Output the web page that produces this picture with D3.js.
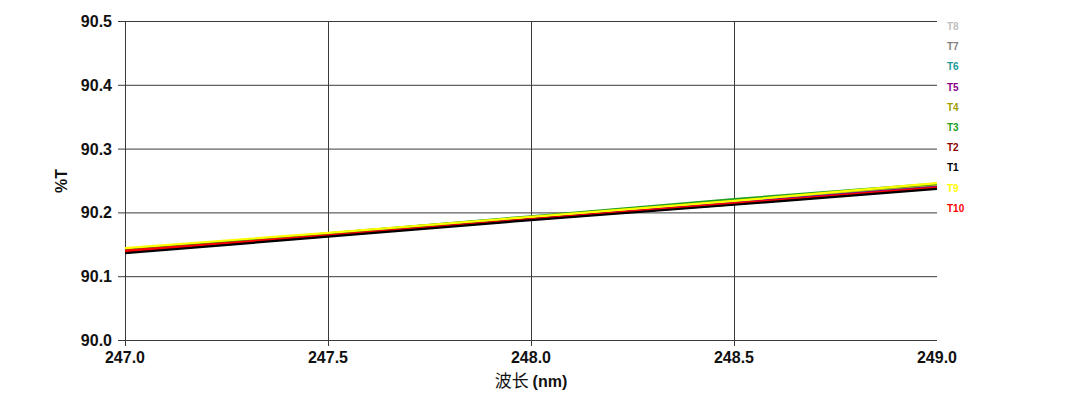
<!DOCTYPE html>
<html><head><meta charset="utf-8">
<script src="https://d3js.org/d3.v7.min.js"></script>
<style>body{margin:0;background:#fff}svg{display:block}</style>
</head><body><svg id="c" width="1080" height="413"></svg>
<script>
const xValues = [247.0, 247.5, 248.0, 248.5, 249.0];
const xTicks = [247.0, 247.5, 248.0, 248.5, 249.0];
const yTicks = [90.0, 90.1, 90.2, 90.3, 90.4, 90.5];
const legendNames = ["T8","T7","T6","T5","T4","T3","T2","T1","T9","T10"];
const legendColors = ["#c0c0c0","#808080","#1a9a9a","#8b008b","#a0a000","#20a020","#8b0000","#000000","#ffff00","#ff0000"];
// draw order (bottom to top)
const T8 = [90.140, 90.165, 90.191, 90.216, 90.241];
const T7 = [90.140, 90.165, 90.191, 90.216, 90.241];
const T6 = [90.139, 90.164, 90.190, 90.215, 90.240];
const T5 = [90.139, 90.164, 90.190, 90.215, 90.240];
const T4 = [90.142, 90.167, 90.193, 90.219, 90.244];
const T3 = [90.141, 90.167, 90.194, 90.221, 90.245];
const T9 = [90.144, 90.168, 90.193, 90.218, 90.246];
const T2 = [90.138, 90.163, 90.189, 90.213, 90.238];
const T10 = [90.140, 90.164, 90.189, 90.214, 90.239];
const T1 = [90.136, 90.162, 90.188, 90.212, 90.237];
const seriesOrder = [["T8",T8],["T7",T7],["T6",T6],["T5",T5],["T4",T4],["T3",T3],["T9",T9],["T2",T2],["T10",T10],["T1",T1]];

const svg = d3.select("#c");
const L=125,R=937,T=21,B=340;
const x = d3.scaleLinear().domain([247,249]).range([L,R]);
const y = d3.scaleLinear().domain([90.0,90.5]).range([B,T]);
const colorOf = n => legendColors[legendNames.indexOf(n)];

// grid
const g = svg.append("g");
g.selectAll(".hy").data(yTicks).join("line")
 .attr("x1",L-7).attr("x2",R).attr("y1",d=>y(d)+0.5).attr("y2",d=>y(d)+0.5)
 .attr("stroke","#3a3a3a").attr("stroke-width",1);
g.selectAll(".vx").data(xTicks).join("line")
 .attr("x1",d=>Math.round(x(d))+0.5).attr("x2",d=>Math.round(x(d))+0.5).attr("y1",T).attr("y2",B+6)
 .attr("stroke","#3a3a3a").attr("stroke-width",1)
 .attr("display",d=>d===249?"none":null);

// tick labels
svg.selectAll(".yl").data(yTicks).join("text")
 .attr("x",112).attr("y",d=>y(d)+6).attr("text-anchor","end")
 .attr("font-family","Liberation Sans, Arial, sans-serif").attr("font-weight","bold").attr("font-size",16)
 .attr("fill","#111").text(d=>d3.format(".1f")(d));
svg.selectAll(".xl").data(xTicks).join("text")
 .attr("x",d=>x(d)).attr("y",363).attr("text-anchor","middle")
 .attr("font-family","Liberation Sans, Arial, sans-serif").attr("font-weight","bold").attr("font-size",16)
 .attr("fill","#111").text(d=>d3.format(".1f")(d));
svg.append("text").attr("transform","translate(67,181) rotate(-90)").attr("text-anchor","middle")
 .attr("font-family","Liberation Sans, Arial, sans-serif").attr("font-weight","bold").attr("font-size",16)
 .attr("fill","#111").text("%T");
const xl = svg.append("text").attr("x",531).attr("y",387).attr("text-anchor","middle")
 .attr("font-family","Liberation Sans, 'Noto Sans CJK SC', sans-serif").attr("font-size",16).attr("fill","#111");
xl.append("tspan").attr("font-family","'Noto Sans CJK SC', sans-serif").attr("font-size",17).text("波长 ");
xl.append("tspan").attr("font-weight","bold").text("(nm)");

// lines
const line = d3.line().x((d,i)=>x(xValues[i])).y(d=>y(d));
svg.append("g").selectAll("path").data(seriesOrder).join("path")
 .attr("d",d=>line(d[1])).attr("fill","none").attr("stroke",d=>colorOf(d[0])).attr("stroke-width",2.2);

// legend
svg.selectAll(".lg").data(legendNames).join("text")
 .attr("x",947).attr("y",(d,i)=>30+i*20.2)
 .attr("font-family","Liberation Sans, Arial, sans-serif").attr("font-weight","bold").attr("font-size",10)
 .attr("fill",(d,i)=>legendColors[i]).text(d=>d);
</script></body></html>
